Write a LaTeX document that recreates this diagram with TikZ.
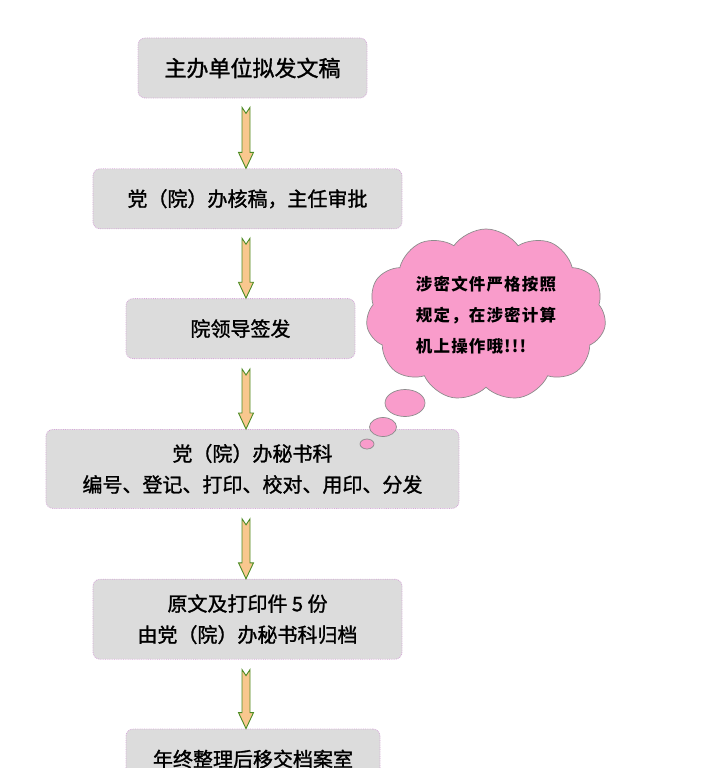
\documentclass[tikz,border=0pt]{standalone}
\usepackage{fontspec}
\newfontfamily\cjk[FakeBold=1.3]{Noto Sans CJK SC}
\newfontfamily\cloudfont[LetterSpace=7]{Noto Sans CJK SC}
\usetikzlibrary{
        calc,
        positioning,
        shapes,
        shapes.geometric,
        shapes.symbols
    }
\definecolor{boxgray}{HTML}{DCDCDC}
\definecolor{boxline}{HTML}{D6A9D9}
\definecolor{arrowfill}{HTML}{F9C78E}
\definecolor{arrowline}{HTML}{4C8C24}
\definecolor{cloudpink}{HTML}{F99CCB}
\definecolor{cloudline}{HTML}{8C8C8C}
\tikzset{flow box/.style={draw=boxline,fill=boxgray,densely dotted,line width=0.8bp,rounded corners=7bp,align=center,inner sep=0pt,minimum height=60bp,font=\cjk\fontsize{20bp}{31bp}\selectfont}}
\tikzset{flow arrow/.style={draw=arrowline,fill=arrowfill,line width=0.9bp,line join=miter,
        to path={let \p1=(\tikztostart), \p2=(\tikztotarget) in
        (\x1-4bp,\y1) -- (\x1,\y1-6bp) -- (\x1+4bp,\y1) -- (\x1+4bp,\y2+16bp) -- (\x1+7.5bp,\y2+16bp)
        -- (\x1,\y2) -- (\x1-7.5bp,\y2+16bp) -- (\x1-4bp,\y2+16bp) -- cycle}}}
\tikzset{thought bubble/.style={draw=cloudline,fill=cloudpink,line width=0.7bp,ellipse,inner sep=0pt}}

\begin{document}
\begin{tikzpicture}[x=1bp,y=-1bp]
    \useasboundingbox (0,0) rectangle (722,768);
    \clip (0,0) rectangle (722,768);
    \coordinate (axis) at (246,0);
    % flow boxes
    \node[flow box,minimum width=229bp,font=\cjk\fontsize{22bp}{31bp}\selectfont] (draft) at (252.5,68) {主办单位拟发文稿};
    \node[flow box,minimum width=309bp] (review) [below=70bp of draft,xshift=-5bp] {党（院）办核稿，主任审批};
    \node[flow box,minimum width=229bp] (sign) [below=69bp of review,xshift=-7bp] {院领导签发};
    \node[flow box,minimum width=413bp,minimum height=79bp] (office) [below=70bp of sign,xshift=12bp] {党（院）办秘书科\\编号、登记、打印、校对、用印、分发};
    \node[flow box,minimum width=309bp,minimum height=80bp] (file) [below=70bp of office,xshift=-5bp] {原文及打印件 5 份\\由党（院）办秘书科归档};
    \node[flow box,minimum width=254bp] (archive) [below=69bp of file,xshift=5.5bp] {年终整理后移交档案室};
    % arrows
    \path[flow arrow] ($(draft.south -| axis)+(0,9)$) to (review.north -| axis);
    \path[flow arrow] ($(review.south -| axis)+(0,9)$) to (sign.north -| axis);
    \path[flow arrow] ($(sign.south -| axis)+(0,10)$) to (office.north -| axis);
    \path[flow arrow] ($(office.south -| axis)+(0,10)$) to (file.north -| axis);
    \path[flow arrow] ($(file.south -| axis)+(0,10)$) to (archive.north -| axis);
    % cloud
    \node[cloud,cloud puffs=11,cloud puff arc=110,aspect=1.45,draw=cloudline,fill=cloudpink,line width=0.7bp,
        minimum width=240bp,minimum height=172bp,align=left,inner sep=0pt,
        font=\cloudfont\bfseries\fontsize{16.5bp}{31bp}\selectfont] (warning) at (486,315)
        {涉密文件严格按照\\规定，在涉密计算\\机上操作哦!!!};
    \node[thought bubble,minimum width=40bp,minimum height=27bp] (puffa) at (405,403) {};
    \node[thought bubble,minimum width=27bp,minimum height=19bp] (puffb) at (383,427) {};
    \node[thought bubble,minimum width=14bp,minimum height=10bp] (puffc) at (367,444) {};
\end{tikzpicture}
\end{document}
